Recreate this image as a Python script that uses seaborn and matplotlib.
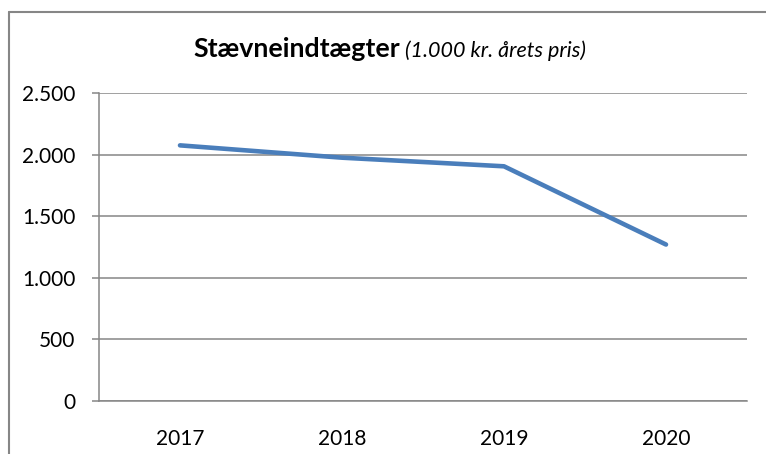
import matplotlib
matplotlib.use("Agg")
import matplotlib.pyplot as plt
import seaborn as sns
import pandas as pd
from matplotlib.lines import Line2D
from matplotlib.ticker import FuncFormatter

# Data
years = ["2017", "2018", "2019", "2020"]
income = [2075, 1975, 1905, 1270]
y_ticks = [0, 500, 1000, 1500, 2000, 2500]

GREY = "#868686"
BLUE = "#4A7EBB"

sns.set_theme(style="white")
plt.rcParams["font.family"] = ["Lato", "DejaVu Sans"]
plt.rcParams["text.color"] = "black"

df = pd.DataFrame({"pos": range(len(years)), "income": income})

W, H = 766, 454
fig = plt.figure(figsize=(W / 100, H / 100), dpi=100)
ax = fig.add_axes([99 / W, 1 - 401 / H, (747 - 99) / W, (401 - 93) / H])

sns.lineplot(data=df, x="pos", y="income", ax=ax, color=BLUE, linewidth=3.3,
             solid_capstyle="round", solid_joinstyle="round")

ax.set_xlim(-0.5, len(years) - 0.5)
ax.set_ylim(0, 2500)
ax.set_xlabel("")
ax.set_ylabel("")

# x: labels at category centres, tick marks between categories
ax.set_xticks(range(len(years)))
ax.set_xticklabels(years)
ax.set_xticks([i - 0.5 for i in range(len(years) + 1)], minor=True)
ax.tick_params(axis="x", which="major", length=0, pad=20, labelsize=15, colors="black")
ax.tick_params(axis="x", which="minor", length=5, width=1.1, color=GREY, direction="out")

ax.set_yticks(y_ticks)
ax.yaxis.set_major_formatter(FuncFormatter(lambda v, p: f"{int(v):,}".replace(",", ".")))
ax.tick_params(axis="y", length=5, width=1.1, color=GREY, pad=12, labelsize=15,
               labelcolor="black", left=True)

ax.grid(axis="y", color=GREY, linewidth=1.1)
ax.grid(axis="x", visible=False)
for s in ["top", "right"]:
    ax.spines[s].set_visible(False)
for s in ["left", "bottom"]:
    ax.spines[s].set_color(GREY)
    ax.spines[s].set_linewidth(1.1)

# title in two parts
fig.text(400 / W, 1 - 57 / H, "Stævneindtægter", ha="right", va="baseline",
         fontsize=19.3, fontweight="bold", color="black")
fig.text(405 / W, 1 - 57 / H, "(1.000 kr. årets pris)", ha="left", va="baseline",
         fontsize=15.5, fontstyle="italic", color="black")

# chart area border (left and top visible)
fig.add_artist(Line2D([8.5 / W, 8.5 / W], [0, 1 - 12 / H], color=GREY, linewidth=1.5,
                      transform=fig.transFigure))
fig.add_artist(Line2D([8.5 / W, 1], [1 - 12 / H, 1 - 12 / H], color=GREY, linewidth=1.5,
                      transform=fig.transFigure))

fig.savefig("out.png", dpi=100)
